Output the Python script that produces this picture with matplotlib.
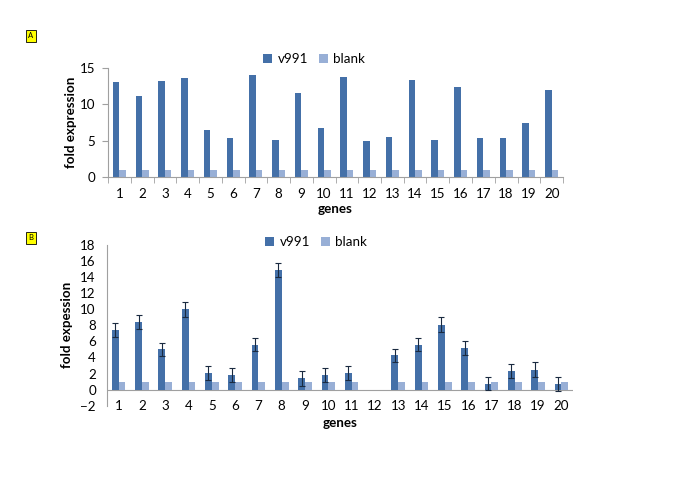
import matplotlib
matplotlib.use("Agg")
import matplotlib.pyplot as plt
import numpy as np

plt.rcParams['font.family'] = ['Lato', 'DejaVu Sans']

genes = [str(i) for i in range(1, 21)]
v991_a = [13.1, 11.2, 13.2, 13.6, 6.4, 5.4, 14.1, 5.1, 11.5, 6.7,
          13.7, 5.0, 5.5, 13.4, 5.1, 12.4, 5.3, 5.4, 7.5, 12.0]
blank_a = [1.0] * 20

v991_b = [7.4, 8.4, 5.0, 10.0, 2.1, 1.8, 5.6, 14.9, 1.4, 1.8,
          2.1, np.nan, 4.25, 5.6, 8.1, 5.2, 0.75, 2.3, 2.5, 0.67]
v991_b_err = [0.85, 0.85, 0.85, 0.9, 0.85, 0.9, 0.85, 0.85, 0.9, 0.9,
              0.9, np.nan, 0.85, 0.85, 0.9, 0.85, 0.85, 0.9, 0.9, 0.85]
blank_b = [1.0] * 11 + [np.nan] + [1.0] * 8

C_V = '#4470A8'
C_B = '#98AFD6'
GRAY = '#A0A0A0'
FS = 9.6

W, H = 685, 484
fig = plt.figure(figsize=(W / 100, H / 100), dpi=100)

x = np.arange(len(genes))
bw = 0.29

# ---------- Panel A ----------
axA = fig.add_axes([108 / W, 1 - 177 / H, (563 - 108) / W, (177 - 68) / H])
axA.bar(x - bw / 2, v991_a, bw, color=C_V, label='v991')
axA.bar(x + bw / 2, blank_a, bw, color=C_B, label='blank')
axA.set_xlim(-0.5, 19.5)
axA.set_ylim(0, 15)
axA.set_yticks([0, 5, 10, 15])
axA.set_xticks(x)
axA.set_xticklabels(genes, fontsize=FS)
axA.set_xticks(np.arange(-0.5, 20, 1), minor=True)
axA.tick_params(axis='x', which='major', length=0, pad=8)
axA.tick_params(axis='x', which='minor', length=4, color=GRAY, direction='out')
axA.tick_params(axis='y', length=4, color=GRAY, labelsize=FS, pad=5)
for s in ['top', 'right']:
    axA.spines[s].set_visible(False)
for s in ['left', 'bottom']:
    axA.spines[s].set_color(GRAY)
    axA.spines[s].set_linewidth(0.8)
axA.set_ylabel('fold expression', fontsize=FS, fontweight='bold', labelpad=2)
axA.set_xlabel('genes', fontsize=FS, fontweight='bold', labelpad=2)
fig.legend(handles=axA.get_legend_handles_labels()[0], labels=['v991', 'blank'],
           loc='center', bbox_to_anchor=(314 / W, 1 - 59 / H), ncol=2, frameon=False,
           fontsize=FS, handlelength=0.7, handleheight=0.7, handletextpad=0.4,
           columnspacing=0.8)

# ---------- Panel B ----------
axB = fig.add_axes([107 / W, 1 - 405.7 / H, (573 - 107) / W, (405.7 - 245) / H])
axB.bar(x - bw / 2, v991_b, bw, color=C_V, label='v991',
        yerr=v991_b_err, error_kw=dict(ecolor='#1A2A40', elinewidth=0.8, capsize=2, capthick=0.8))
axB.bar(x + bw / 2, blank_b, bw, color=C_B, label='blank')
axB.set_xlim(-0.5, 19.5)
axB.set_ylim(-2, 18)
axB.set_yticks(np.arange(-2, 19, 2))
axB.set_xticks(x)
axB.set_xticklabels(genes, fontsize=FS)
for t in axB.get_xticklabels():
    t.set_va('center')
axB.tick_params(axis='x', length=0, pad=0)
axB.tick_params(axis='y', length=0, labelsize=FS, pad=8)
for s in ['top', 'right', 'bottom']:
    axB.spines[s].set_visible(False)
axB.spines['left'].set_color(GRAY)
axB.spines['left'].set_linewidth(0.8)
axB.axhline(0, color=GRAY, lw=0.8, zorder=0.5)
axB.set_ylabel('fold expession', fontsize=FS, fontweight='bold', labelpad=5)
axB.set_xlabel('genes', fontsize=FS, fontweight='bold', labelpad=4)
fig.legend(handles=axB.get_legend_handles_labels()[0], labels=['v991', 'blank'],
           loc='center', bbox_to_anchor=(316 / W, 1 - 242 / H), ncol=2, frameon=False,
           fontsize=FS, handlelength=0.7, handleheight=0.7, handletextpad=0.4,
           columnspacing=0.8)

# ---------- Panel tags ----------
for lab, yy in [('A', 36), ('B', 238)]:
    fig.text(31 / W, 1 - yy / H, lab, fontsize=5.5, ha='center', va='center',
             bbox=dict(boxstyle='square,pad=0.3', fc='#FFFF00', ec='black', lw=0.6))

fig.savefig('out.png', dpi=100)
